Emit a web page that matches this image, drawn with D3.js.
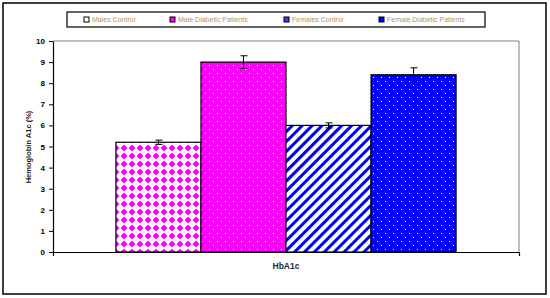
<!DOCTYPE html>
<html lang="en">
	<head>
		<meta charset="utf-8">
		<title>HbA1c bars</title>
		<script type="text/javascript" src="https://cdn.jsdelivr.net/npm/d3@7"></script>
		<style type="text/css">
			body { margin: 0; background: #fff; }
			svg text { font-family: "Liberation Sans", Arial, sans-serif; }
		</style>
	</head>
	<body>
		<script type="text/javascript">

			//Chart values
			var categories = ["HbA1c"];
			var groups = ["Males Control", "Male Diabetic Patients", "Females Control", "Female Diabetic Patients"];
			var means = [5.2, 9.0, 6.0, 8.4];
			var errors = [0.1, 0.3, 0.12, 0.33];
			var yTicks = [0, 1, 2, 3, 4, 5, 6, 7, 8, 9, 10];

			var w = 550;
			var h = 298;
			var plot = { left: 53, right: 519, top: 41, bottom: 252 };

			var svg = d3.select("body")
						.append("svg")
						.attr("width", w)
						.attr("height", h);

			//Fill patterns
			var defs = svg.append("defs");

			var pDiamond = defs.append("pattern")
				.attr("id", "pDiamond").attr("patternUnits", "userSpaceOnUse")
				.attr("width", 8).attr("height", 8);
			pDiamond.append("rect").attr("width", 8).attr("height", 8).attr("fill", "#fff");
			pDiamond.append("path").attr("d", "M4,0.5 L7.5,4 L4,7.5 L0.5,4 Z").attr("fill", "#ff00ff");

			["pMagDots", "pBlueDots"].forEach(function(id, i) {
				var p = defs.append("pattern")
					.attr("id", id).attr("patternUnits", "userSpaceOnUse")
					.attr("width", 8).attr("height", 8);
				p.append("rect").attr("width", 8).attr("height", 8).attr("fill", i == 0 ? "#ff00ff" : "#0000ff");
				p.append("rect").attr("x", 1).attr("y", 1).attr("width", 1).attr("height", 1).attr("fill", "#fff");
				p.append("rect").attr("x", 5).attr("y", 5).attr("width", 1).attr("height", 1).attr("fill", "#fff");
			});

			var pStripe = defs.append("pattern")
				.attr("id", "pStripe").attr("patternUnits", "userSpaceOnUse")
				.attr("width", 7).attr("height", 7)
				.attr("patternTransform", "rotate(45)");
			pStripe.append("rect").attr("width", 7).attr("height", 7).attr("fill", "#fff");
			pStripe.append("rect").attr("width", 3).attr("height", 7).attr("fill", "#0000ff");

			var fills = ["url(#pDiamond)", "url(#pMagDots)", "url(#pStripe)", "url(#pBlueDots)"];

			//Outer border
			svg.append("rect")
				.attr("x", 3).attr("y", 3).attr("width", 543).attr("height", 291)
				.attr("fill", "none").attr("stroke", "#000").attr("stroke-width", 1.5);

			//Scales
			var xScale = d3.scaleBand()
						.domain(categories)
						.range([plot.left, plot.right]);

			var xInner = d3.scaleBand()
						.domain(groups)
						.range([0, xScale.bandwidth()])
						.paddingInner(0)
						.paddingOuter(0.74);

			var yScale = d3.scaleLinear()
						.domain([0, 10])
						.range([plot.bottom, plot.top]);

			//Plot area frame (top and right in gray)
			svg.append("path")
				.attr("d", "M" + plot.left + "," + yScale(10) + "H" + plot.right + "V" + plot.bottom)
				.attr("fill", "none").attr("stroke", "#808080").attr("stroke-width", 1);

			//Bars
			var bars = svg.selectAll("g.bar")
				.data(groups)
				.enter()
				.append("g")
				.attr("class", "bar");

			bars.append("rect")
				.attr("x", function(d) { return xScale(categories[0]) + xInner(d); })
				.attr("y", function(d, i) { return yScale(means[i]); })
				.attr("width", xInner.bandwidth())
				.attr("height", function(d, i) { return yScale(0) - yScale(means[i]); })
				.attr("fill", function(d, i) { return fills[i]; })
				.attr("stroke", "#000")
				.attr("stroke-width", 1.2);

			//Error bars
			var ebar = bars.append("g")
				.attr("stroke", "#000").attr("stroke-width", 1);
			ebar.append("line")
				.attr("x1", function(d) { return xScale(categories[0]) + xInner(d) + xInner.bandwidth() / 2; })
				.attr("x2", function(d) { return xScale(categories[0]) + xInner(d) + xInner.bandwidth() / 2; })
				.attr("y1", function(d, i) { return yScale(means[i] + errors[i]); })
				.attr("y2", function(d, i) { return yScale(means[i] - errors[i]); });
			[1, -1].forEach(function(s) {
				ebar.append("line")
					.attr("x1", function(d) { return xScale(categories[0]) + xInner(d) + xInner.bandwidth() / 2 - 3; })
					.attr("x2", function(d) { return xScale(categories[0]) + xInner(d) + xInner.bandwidth() / 2 + 4; })
					.attr("y1", function(d, i) { return yScale(means[i] + s * errors[i]); })
					.attr("y2", function(d, i) { return yScale(means[i] + s * errors[i]); });
			});

			//Y axis
			var yAxis = d3.axisLeft(yScale)
						.tickValues(yTicks)
						.tickSize(4)
						.tickSizeOuter(0);
			var gy = svg.append("g")
				.attr("transform", "translate(" + plot.left + ",0)")
				.call(yAxis);
			gy.select(".domain").attr("stroke", "#000").attr("stroke-width", 1.2);
			gy.selectAll(".tick line").attr("stroke", "#000");
			gy.selectAll(".tick text")
				.attr("x", -8)
				.attr("font-size", "8px")
				.attr("font-weight", "bold")
				.attr("fill", "#000");

			//X axis
			var xAxis = d3.axisBottom(xScale)
						.tickSize(0)
						.tickSizeOuter(4)
						.tickFormat("");
			var gx = svg.append("g")
				.attr("transform", "translate(0," + plot.bottom + ")")
				.call(xAxis);
			gx.select(".domain").attr("stroke", "#000").attr("stroke-width", 1.2);

			svg.append("text")
				.attr("x", xScale(categories[0]) + xScale.bandwidth() / 2)
				.attr("y", 269)
				.attr("text-anchor", "middle")
				.attr("font-size", "8.5px")
				.attr("font-weight", "bold")
				.attr("fill", "#1c2740")
				.text(categories[0]);

			//Y axis title
			svg.append("text")
				.attr("transform", "translate(31,147) rotate(-90)")
				.attr("text-anchor", "middle")
				.attr("font-size", "7.5px")
				.attr("font-weight", "bold")
				.attr("fill", "#1a1a1a")
				.text("Hemoglobin A1c (%)");

			//Legend
			var legend = svg.append("g");
			legend.append("rect")
				.attr("x", 67).attr("y", 12).attr("width", 418).attr("height", 15)
				.attr("fill", "#fff").attr("stroke", "#000").attr("stroke-width", 1.2);

			var legendX = [84, 170, 284, 379];
			var items = legend.selectAll("g.item")
				.data(groups)
				.enter()
				.append("g")
				.attr("class", "item")
				.attr("transform", function(d, i) { return "translate(" + legendX[i] + ",17)"; });
			items.append("rect")
				.attr("width", 5).attr("height", 5)
				.attr("fill", function(d, i) { return ["#fff", "#ff00ff", "#3a3aff", "#0000ff"][i]; })
				.attr("stroke", "#000").attr("stroke-width", 1);
			items.append("text")
				.attr("x", 8).attr("y", 5)
				.attr("font-size", "7px")
				.attr("fill", "#b8925a")
				.text(function(d) { return d; });

		</script>
	</body>
</html>
